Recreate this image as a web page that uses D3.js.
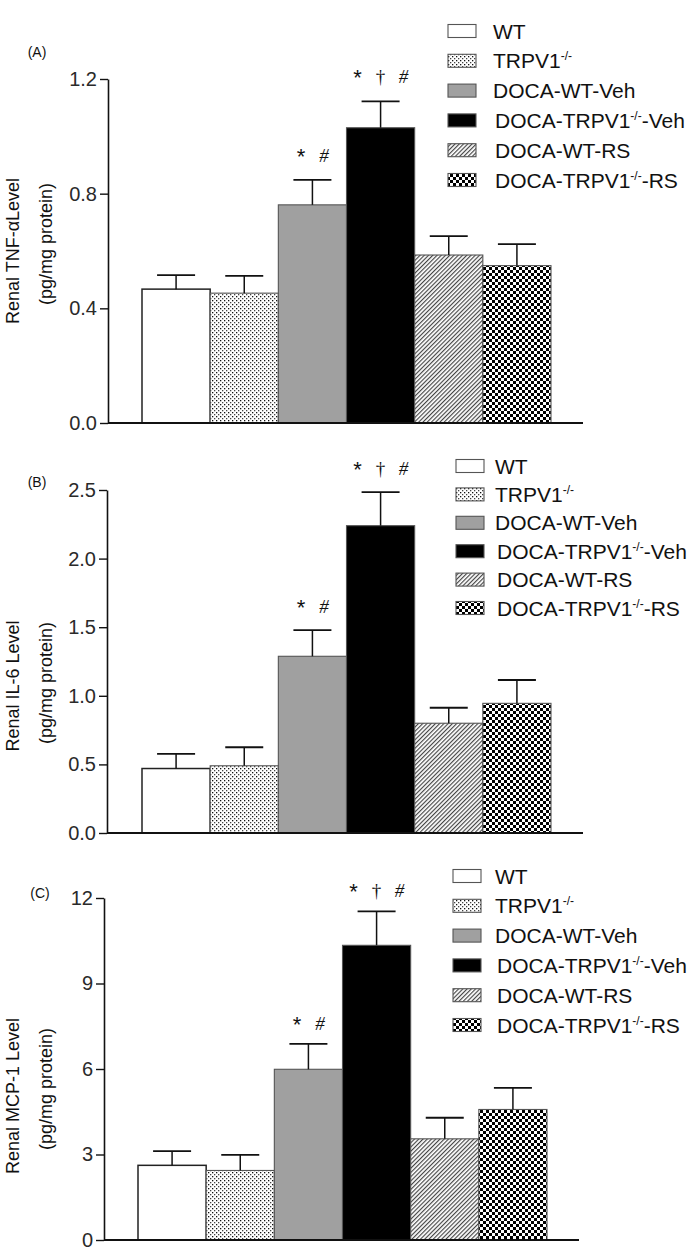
<!DOCTYPE html>
<html>
<head>
<meta charset="utf-8">
<script src="https://cdn.jsdelivr.net/npm/d3@7"></script>
<style>
  html, body { margin: 0; padding: 0; background: #fff; }
  svg { display: block; }
  text { font-family: "Liberation Sans", Arial, sans-serif; }
</style>
</head>
<body>
<svg id="chart" width="693" height="1256"></svg>
<script>
// ---------------- data ----------------
const categories = ["WT", "TRPV1-/-", "DOCA-WT-Veh", "DOCA-TRPV1-/--Veh", "DOCA-WT-RS", "DOCA-TRPV1-/--RS"];
const significance = ["", "", "* #", "* † #", "", ""];

const tnfMean = [0.467, 0.453, 0.761, 1.03, 0.586, 0.549];
const tnfErr  = [0.049, 0.060, 0.087, 0.092, 0.066, 0.075];
const tnfTicks = [0.0, 0.4, 0.8, 1.2];

const il6Mean = [0.47, 0.49, 1.288, 2.24, 0.80, 0.945];
const il6Err  = [0.106, 0.135, 0.19, 0.245, 0.113, 0.17];
const il6Ticks = [0.0, 0.5, 1.0, 1.5, 2.0, 2.5];

const mcpMean = [2.62, 2.44, 5.99, 10.34, 3.55, 4.58];
const mcpErr  = [0.50, 0.55, 0.89, 1.19, 0.74, 0.76];
const mcpTicks = [0, 3, 6, 9, 12];

const panelLetters = ["(A)", "(B)", "(C)"];
const yTitles = ["Renal TNF-\u03b1Level", "Renal IL-6 Level", "Renal MCP-1 Level"];
const yUnit = "(pg/mg protein)";

// ---------------- layout / style ----------------
const panels = [
  { mean: tnfMean, err: tnfErr, ticks: tnfTicks, fmt: d3.format(".1f"),
    x0: 108, x1: 583, barStart: 142, barEnd: 551, yTop: 79, yBot: 423,
    letterPos: [37, 57], t1: [13, 251], t2: [46, 244],
    legend: { sx: 448, tx: 493, y0: 31, dy: 29.8 }, sigOff: 18 },
  { mean: il6Mean, err: il6Err, ticks: il6Ticks, fmt: d3.format(".1f"),
    x0: 107, x1: 583, barStart: 142, barEnd: 551, yTop: 490, yBot: 833,
    letterPos: [37, 487], t1: [13, 686], t2: [46, 683],
    legend: { sx: 456, tx: 495, y0: 466, dy: 28.4 }, sigOff: 17 },
  { mean: mcpMean, err: mcpErr, ticks: mcpTicks, fmt: d3.format("d"),
    x0: 104, x1: 579, barStart: 138, barEnd: 547, yTop: 898, yBot: 1240,
    letterPos: [40, 898], t1: [13, 1096], t2: [46, 1089],
    legend: { sx: 453, tx: 495, y0: 876, dy: 29.8 }, sigOff: 14 }
];

const fills = ["#ffffff", "url(#dots)", "#a0a0a0", "#000000", "url(#hatch)", "url(#checker)"];

const svg = d3.select("#chart");
const defs = svg.append("defs");

// dotted pattern
const pDots = defs.append("pattern").attr("id", "dots").attr("patternUnits", "userSpaceOnUse")
  .attr("width", 4).attr("height", 4);
pDots.append("rect").attr("width", 4).attr("height", 4).attr("fill", "#fff");
pDots.append("rect").attr("x", 0).attr("y", 0).attr("width", 1.3).attr("height", 1.3).attr("fill", "#111");
pDots.append("rect").attr("x", 2).attr("y", 2).attr("width", 1.3).attr("height", 1.3).attr("fill", "#444");

// hatch pattern
const pHatch = defs.append("pattern").attr("id", "hatch").attr("patternUnits", "userSpaceOnUse")
  .attr("width", 3).attr("height", 3).attr("patternTransform", "rotate(45)");
pHatch.append("rect").attr("width", 3).attr("height", 3).attr("fill", "#fff");
pHatch.append("line").attr("x1", 0.6).attr("y1", 0).attr("x2", 0.6).attr("y2", 3)
  .attr("stroke", "#3a3a3a").attr("stroke-width", 1.1);

// checker pattern
const pCheck = defs.append("pattern").attr("id", "checker").attr("patternUnits", "userSpaceOnUse")
  .attr("width", 6).attr("height", 6);
pCheck.append("rect").attr("width", 6).attr("height", 6).attr("fill", "#fff");
pCheck.append("rect").attr("x", 0).attr("y", 0).attr("width", 3).attr("height", 3).attr("fill", "#000");
pCheck.append("rect").attr("x", 3).attr("y", 3).attr("width", 3).attr("height", 3).attr("fill", "#000");

function labelWithSup(sel, label, mainSize, supSize) {
  const parts = label.split("-/-");
  sel.append("tspan").text(parts[0]);
  if (parts.length > 1) {
    sel.append("tspan").attr("font-size", supSize).attr("dy", -8).text("-/-");
    sel.append("tspan").attr("dy", 8).text(parts[1]);
  }
}

panels.forEach((p, pi) => {
  const g = svg.append("g");
  const y = d3.scaleLinear().domain([0, p.ticks[p.ticks.length - 1]]).range([p.yBot, p.yTop]);
  const x = d3.scaleBand().domain(categories).range([p.barStart, p.barEnd]).padding(0);

  // bars
  g.selectAll("rect.bar").data(categories).join("rect")
    .attr("class", "bar")
    .attr("x", d => x(d))
    .attr("width", x.bandwidth())
    .attr("y", (d, i) => y(p.mean[i]))
    .attr("height", (d, i) => y(0) - y(p.mean[i]))
    .attr("fill", (d, i) => fills[i])
    .attr("stroke", (d, i) => i === 0 ? "#222" : "#555")
    .attr("stroke-width", (d, i) => i === 0 ? 1.5 : 1.1);

  // error bars (upper only)
  const capW = 38;
  const eg = g.selectAll("g.err").data(categories).join("g").attr("class", "err");
  eg.append("line")
    .attr("x1", d => x(d) + x.bandwidth() / 2).attr("x2", d => x(d) + x.bandwidth() / 2)
    .attr("y1", (d, i) => y(p.mean[i])).attr("y2", (d, i) => y(p.mean[i] + p.err[i]))
    .attr("stroke", "#111").attr("stroke-width", 1.5);
  eg.append("line")
    .attr("x1", d => x(d) + x.bandwidth() / 2 - capW / 2).attr("x2", d => x(d) + x.bandwidth() / 2 + capW / 2)
    .attr("y1", (d, i) => y(p.mean[i] + p.err[i])).attr("y2", (d, i) => y(p.mean[i] + p.err[i]))
    .attr("stroke", "#111").attr("stroke-width", 1.8);

  // significance markers
  categories.forEach((c, i) => {
    if (!significance[i]) return;
    const syms = significance[i].split(" ");
    const cx = x(c) + x.bandwidth() / 2;
    const by = y(p.mean[i] + p.err[i]) - p.sigOff;
    syms.forEach((s, k) => {
      const off = (k - (syms.length - 1) / 2) * 23;
      g.append("text")
        .attr("x", cx + off).attr("y", s === "*" ? by + 2 : by)
        .attr("text-anchor", "middle")
        .attr("font-size", s === "*" ? 22 : 19)
        .attr("font-style", s === "#" ? "italic" : "normal")
        .style("font-family", s === "*" ? "'Liberation Sans', Arial, sans-serif" : "'Liberation Serif', 'Times New Roman', serif")
        .attr("fill", "#111")
        .text(s);
    });
  });

  // y axis
  const yAxis = d3.axisLeft(y).tickValues(p.ticks).tickFormat(p.fmt).tickSize(8).tickSizeOuter(0).tickPadding(3);
  const ga = g.append("g").attr("transform", `translate(${p.x0},0)`).call(yAxis);
  ga.select(".domain").attr("stroke", "#111").attr("stroke-width", 1.6);
  ga.selectAll(".tick line").attr("stroke", "#111").attr("stroke-width", 1.4);
  ga.selectAll(".tick text").attr("font-size", 20).attr("fill", "#2a2a2a")
    .style("font-family", "'Liberation Sans', Arial, sans-serif");

  // x axis baseline
  g.append("line").attr("x1", p.x0).attr("x2", p.x1).attr("y1", y(0)).attr("y2", y(0))
    .attr("stroke", "#111").attr("stroke-width", 2);

  // panel letter
  g.append("text").attr("x", p.letterPos[0]).attr("y", p.letterPos[1])
    .attr("text-anchor", "middle").attr("font-size", 14).attr("fill", "#111").text(panelLetters[pi]);

  // y titles
  g.append("text").attr("transform", `translate(${p.t1[0] + 6},${p.t1[1]}) rotate(-90)`)
    .attr("text-anchor", "middle").attr("font-size", 18).attr("fill", "#111").text(yTitles[pi]);
  g.append("text").attr("transform", `translate(${p.t2[0] + 6},${p.t2[1]}) rotate(-90)`)
    .attr("text-anchor", "middle").attr("font-size", 18).attr("fill", "#111").text(yUnit);

  // legend
  const lg = g.append("g");
  categories.forEach((c, i) => {
    const cy = p.legend.y0 + i * p.legend.dy;
    lg.append("rect").attr("x", p.legend.sx).attr("y", cy - 6.5).attr("width", 28).attr("height", 13)
      .attr("fill", fills[i]).attr("stroke", "#555").attr("stroke-width", 1.1);
    const t = lg.append("text").attr("x", p.legend.tx + (i >= 3 ? 2 : 0)).attr("y", cy + 7.5)
      .attr("font-size", 21).attr("fill", "#111");
    labelWithSup(t, c, 21, 12);
  });
});
</script>
</body>
</html>
